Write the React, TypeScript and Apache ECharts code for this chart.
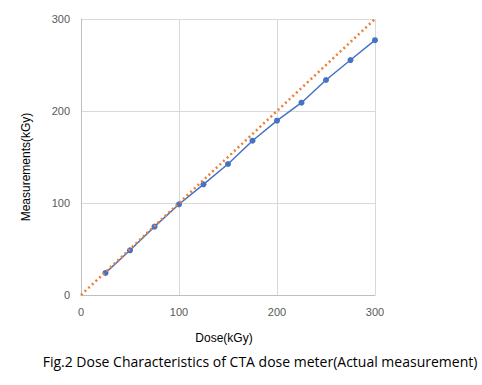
import React, { useEffect, useRef } from "react";
import * as echarts from "echarts";

const doses = [25, 50, 75, 100, 125, 150, 175, 200, 225, 250, 275, 300];
const measurements = [24, 48.6, 74.3, 98.6, 120.3, 142.4, 167.7, 189.5, 209, 233.7, 255.4, 277];
const idealLine = [
  [0, 0],
  [300, 300],
];
const xTitle = "Dose(kGy)";
const yTitle = "Measurements(kGy)";
const caption = "Fig.2 Dose Characteristics of CTA dose meter(Actual measurement)";

export default function App() {
  const ref = useRef<HTMLDivElement>(null);
  useEffect(() => {
    if (!ref.current) return;
    const chart = echarts.init(ref.current, undefined, { renderer: "svg" });
    chart.setOption({
      animation: false,
      backgroundColor: "#ffffff",
      grid: { left: 81, right: 107, top: 19, bottom: 90, containLabel: false },
      xAxis: {
        type: "value",
        min: 0,
        max: 300,
        interval: 100,
        axisLine: { show: true, lineStyle: { color: "#bfbfbf", width: 1 } },
        axisTick: { show: false },
        splitLine: { show: true, lineStyle: { color: "#d9d9d9", width: 1 } },
        axisLabel: { color: "#595959", fontSize: 11, fontFamily: "Liberation Sans", margin: 11 },
      },
      yAxis: {
        type: "value",
        min: 0,
        max: 300,
        interval: 100,
        axisLine: { show: true, lineStyle: { color: "#bfbfbf", width: 1 } },
        axisTick: { show: false },
        splitLine: { show: true, lineStyle: { color: "#d9d9d9", width: 1 } },
        axisLabel: { color: "#595959", fontSize: 11, fontFamily: "Liberation Sans", margin: 11 },
      },
      series: [
        {
          type: "line",
          data: doses.map((d, i) => [d, measurements[i]]),
          symbol: "circle",
          symbolSize: 6,
          itemStyle: { color: "#4472c4" },
          lineStyle: { color: "#4472c4", width: 1.5 },
          z: 2,
        },
        {
          type: "line",
          data: idealLine,
          symbol: "none",
          lineStyle: { color: "#ed7d31", width: 2.5, type: [2, 3], cap: "butt" },
          z: 3,
        },
      ],
      graphic: [
        {
          type: "text",
          x: 26,
          y: 167,
          rotation: Math.PI / 2,
          style: {
            text: yTitle,
            fill: "#000000",
            font: "12px 'Liberation Sans'",
            align: "center",
            verticalAlign: "middle",
          },
        },
        {
          type: "text",
          x: 224,
          y: 338,
          style: {
            text: xTitle,
            fill: "#000000",
            font: "12px 'Liberation Sans'",
            align: "center",
            verticalAlign: "middle",
          },
        },
        {
          type: "text",
          x: 260,
          y: 361,
          style: {
            text: caption,
            fill: "#000000",
            font: "14px 'Open Sans'",
            align: "center",
            verticalAlign: "middle",
          },
        },
      ],
    });
    return () => chart.dispose();
  }, []);
  return <div ref={ref} style={{ width: 482, height: 385, position: "absolute", left: 0, top: 0 }} />;
}
